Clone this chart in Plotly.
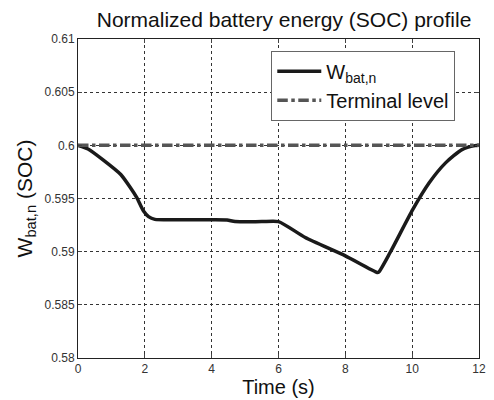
import plotly.graph_objects as go

time_s = [0, 0.3, 0.74, 1.28, 1.57, 1.76, 1.96, 2.11, 2.3, 3.0, 4.0, 4.46, 4.7, 5.5, 6.0, 6.8, 8.0, 8.95, 9.0, 9.34, 10.02, 10.51, 11.0, 11.49, 11.88, 12]
soc = [0.6, 0.59966, 0.59866, 0.59726, 0.59601, 0.59508, 0.59382, 0.5933, 0.59304, 0.59300, 0.59300, 0.59298, 0.59283, 0.59283, 0.59283, 0.59133, 0.58961, 0.58805, 0.58808, 0.58992, 0.59398, 0.59648, 0.59835, 0.5996, 0.59997, 0.6]
terminal_t = [0, 12]
terminal_level = [0.6, 0.6]
y_ticks = [0.58, 0.585, 0.59, 0.595, 0.6, 0.605, 0.61]
y_tick_text = ["0.58", "0.585", "0.59", "0.595", "0.6", "0.605", "0.61"]
x_ticks = [0, 2, 4, 6, 8, 10, 12]

fig = go.Figure()
fig.add_trace(go.Scatter(x=time_s, y=soc, mode="lines", name="W<sub>bat,n</sub>",
                         line=dict(color="#1a1a1a", width=3.5, shape="spline", smoothing=0.6)))
fig.add_trace(go.Scatter(x=terminal_t, y=terminal_level, mode="lines", name="Terminal level",
                         line=dict(color="#555555", width=3.5, dash="dashdot")))

fig.update_layout(
    width=494, height=400,
    margin=dict(l=78, r=8, t=39, b=41),
    paper_bgcolor="white", plot_bgcolor="white",
    font=dict(family="Liberation Sans, Arial, sans-serif", color="#111111"),
    title=dict(text="Normalized battery energy (SOC) profile", x=0.575, xanchor="center",
               y=0.952, yanchor="middle", font=dict(size=21, color="#111111")),
    showlegend=True,
    legend=dict(x=0.482, y=0.963, xanchor="left", yanchor="top",
                bgcolor="white", bordercolor="#666666", borderwidth=1,
                itemwidth=44,
                font=dict(size=20, color="#111111"), tracegroupgap=0),
)
fig.update_xaxes(range=[0, 12], tickvals=x_ticks, ticks="inside", ticklen=4,
                 showline=True, linecolor="#222222", linewidth=1, mirror="ticks",
                 showgrid=True, gridcolor="#333333", griddash="dot", gridwidth=1,
                 zeroline=False, tickfont=dict(size=12, color="#333333"),
                 title=dict(text="Time (s)", font=dict(size=20, color="#111111"), standoff=2))
fig.update_yaxes(range=[0.58, 0.61], tickvals=y_ticks, ticktext=y_tick_text, ticks="inside", ticklen=4,
                 showline=True, linecolor="#222222", linewidth=1, mirror="ticks",
                 showgrid=True, gridcolor="#333333", griddash="dot", gridwidth=1,
                 zeroline=False, tickfont=dict(size=12, color="#333333"),
                 title=dict(text="W<sub>bat,n</sub> (SOC)", font=dict(size=21, color="#111111"), standoff=6))

fig.write_html("out.html")
